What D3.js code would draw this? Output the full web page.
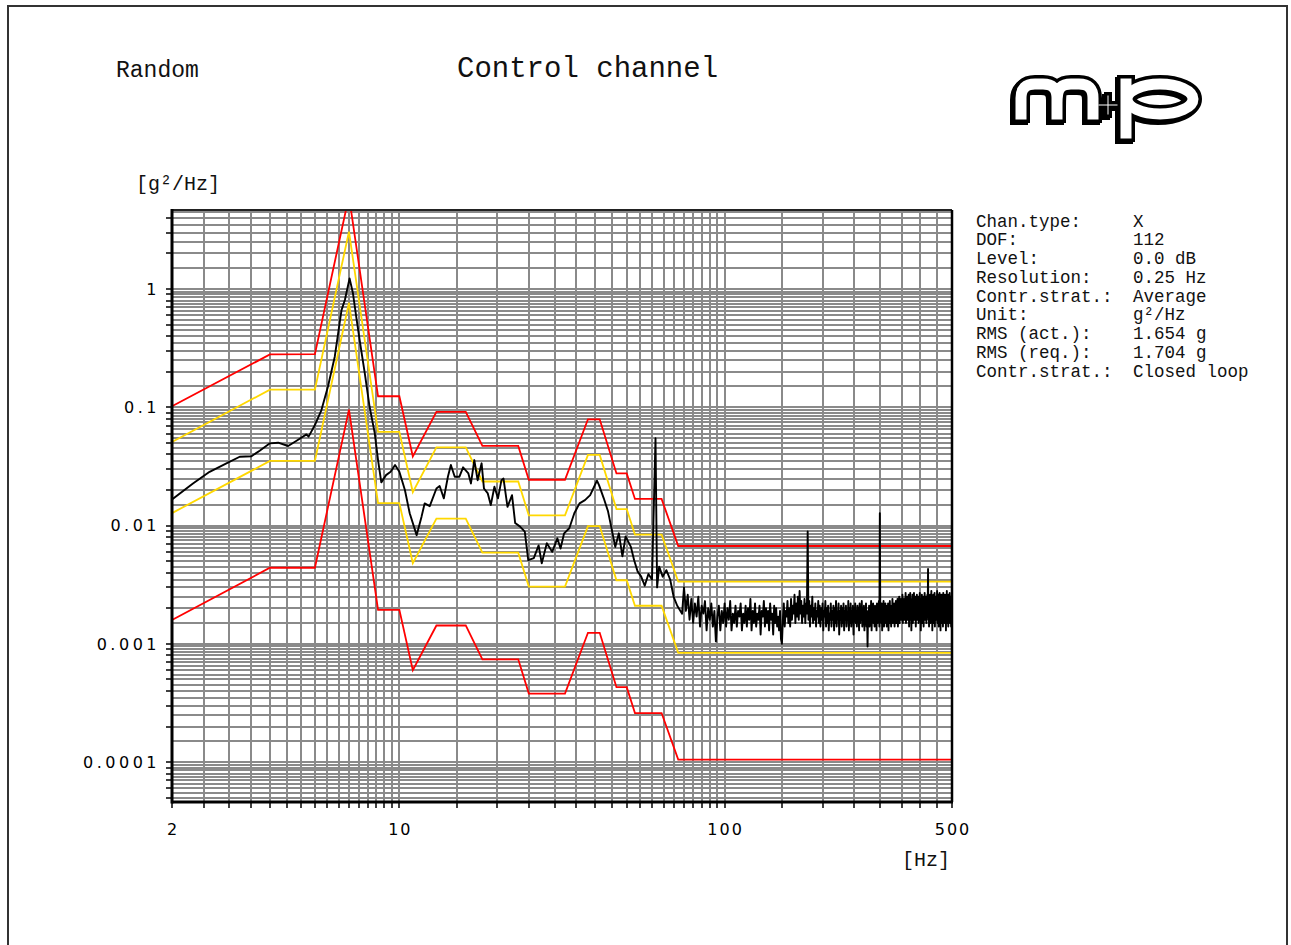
<!DOCTYPE html>
<html>
<head>
<meta charset="utf-8">
<script src="https://cdnjs.cloudflare.com/ajax/libs/d3/7.8.5/d3.min.js"></script>
<style>
  body { margin: 0; background: #fff; }
  .mono { font-family: "Liberation Mono", "Courier New", monospace; fill: #111; }
  .tick-label { font-family: "DejaVu Sans", sans-serif; font-size: 16px; fill: #000; }
  .ylab { letter-spacing: 3.5px; }
  .xlab { letter-spacing: 2px; }
</style>
</head>
<body>
<div id="canvas"></div>
<script>
const w = 1291;
const h = 945;
const plot = { left: 172, right: 952, top: 210, bottom: 802 };

// axis labels and grid subdivisions
const xTickLabels = [2, 10, 100, 500];
const yTickLabels = [1, 0.1, 0.01, 0.001, 0.0001];
const gridMantissa = [1, 1.5, 2, 2.5, 3, 3.5, 4, 4.5, 5, 5.5, 6, 6.5, 7, 7.5, 8, 8.5, 9, 9.5];
const tickMantissa = [1, 2, 3, 4, 5, 6, 7, 8, 9];

// tolerance lines, shared breakpoints [Hz]
const limitFreq = [2, 4, 5.5, 7, 8.6, 10, 11, 13, 16, 18, 23.2, 25, 32.3, 38, 41.3, 46.5, 50, 53, 64, 72, 500];
const abortHigh = [0.102, 0.28, 0.282, 6.12, 0.124, 0.124, 0.0384, 0.0916, 0.0916, 0.0472, 0.0472, 0.0244, 0.0244, 0.0792, 0.0792, 0.0276, 0.0276, 0.0168, 0.0168, 0.00672, 0.00672];
const alarmHigh = [0.051, 0.141, 0.141, 3.06, 0.062, 0.062, 0.0192, 0.0458, 0.0458, 0.0236, 0.0236, 0.0122, 0.0122, 0.0396, 0.0396, 0.0138, 0.0138, 0.0084, 0.0084, 0.00336, 0.00336];
const alarmLow = [0.01275, 0.0352, 0.0352, 0.765, 0.0155, 0.0155, 0.0048, 0.01145, 0.01145, 0.0059, 0.0059, 0.00305, 0.00305, 0.0099, 0.0099, 0.00345, 0.00345, 0.0021, 0.0021, 0.00084, 0.00084];
const abortLow = [0.00159, 0.0044, 0.0044, 0.0956, 0.00194, 0.00194, 0.0006, 0.00143, 0.00143, 0.00074, 0.00074, 0.00038, 0.00038, 0.00124, 0.00124, 0.00043, 0.00043, 0.00026, 0.00026, 0.000105, 0.000105];
const abortHighEnd = 0.0025; // red line drops at 500 Hz

// measured PSD up to 74 Hz
const measFreq = [2, 2.32, 2.61, 2.94, 3.23, 3.51, 3.72, 4, 4.24, 4.55, 4.83, 5.18, 5.26, 5.5, 5.76, 6.03, 6.33, 6.64, 6.8, 7.03,
  7.2, 7.37, 7.55, 7.83, 8.1, 8.4, 8.6, 8.8, 9.1, 9.4, 9.7, 10, 10.4, 10.76, 11.3, 11.7, 11.96, 12.4, 13, 13.3,
  13.7, 14.1, 14.4, 14.8, 15.3, 15.7, 16.3, 16.6, 17, 17.4, 17.9, 18.2, 18.7, 19.1, 19.6, 20.1, 20.6, 20.9, 21.5, 22.2,
  22.7, 23.5, 24.3, 24.9, 25.9, 26.8, 27.4, 28.4, 29.5, 30.6, 31.3, 32.1, 33.3, 34.5, 35.8, 37.2, 38.6, 40.5, 41.1, 42.5,
  43.8, 45, 46.1, 47.3, 48.5, 49.6, 51.5, 52.7, 54, 55.4, 56.8, 58.3, 59.8, 61.3, 62, 62.9, 64.5, 66.2, 68, 69.7,
  71.5, 74];
const measVal = [0.0166, 0.0227, 0.0285, 0.0336, 0.0382, 0.0386, 0.043, 0.0496, 0.0502, 0.0471, 0.0522, 0.059, 0.0565, 0.0708, 0.0948, 0.149, 0.268, 0.664, 0.807, 1.23,
  0.92, 0.583, 0.37, 0.194, 0.101, 0.0605, 0.0358, 0.0232, 0.0267, 0.0285, 0.0325, 0.0285, 0.02, 0.0127, 0.0083, 0.0119, 0.0154, 0.0146, 0.0206, 0.0216,
  0.017, 0.0259, 0.0325, 0.0259, 0.0259, 0.0311, 0.0276, 0.0227, 0.0358, 0.0242, 0.0336, 0.0206, 0.0187, 0.0149, 0.0213, 0.017, 0.0242, 0.025, 0.0144, 0.0181,
  0.0105, 0.0098, 0.0089, 0.0051, 0.0053, 0.0068, 0.0048, 0.0071, 0.006, 0.0078, 0.0064, 0.0086, 0.0095, 0.0127, 0.0154, 0.0164, 0.0181, 0.024, 0.022, 0.017,
  0.0132, 0.0092, 0.0066, 0.0086, 0.0055, 0.0081, 0.0066, 0.0051, 0.0041, 0.0037, 0.0031, 0.0039, 0.0035, 0.0548, 0.003, 0.0045, 0.0037, 0.0042, 0.0035, 0.0025,
  0.0021, 0.0018];

// measured PSD 75..500 Hz, one value per Hz, in 1e-4 g²/Hz
const noiseStart = 75;
const noiseStep = 1;
const noiseUnit = 1e-4;
const noiseVal = [
  30, 19, 26, 16, 24, 15, 22, 17, 25, 14, 21, 18, 23, 13, 20, 16, 22, 14, 19, 10.5,
  17, 21, 13, 19, 15, 22, 14, 20, 16, 23, 13, 18, 15, 21, 14, 19, 17, 22, 13, 18,
  15, 21, 14, 20, 16, 24, 13, 19, 15, 22, 14, 18, 16, 21, 12, 19, 17, 23, 14, 20,
  15, 19, 13, 22, 16, 18, 12, 21, 15, 20, 14, 17, 13, 19, 11, 10, 16, 22, 14, 19,
  17, 23, 15, 20, 14, 24, 16, 21, 18, 26, 15, 22, 17, 25, 16, 28, 18, 23, 15, 21,
  17, 24, 15, 22, 18, 89, 16, 23, 14, 21, 17, 25, 15, 20, 16, 22, 14, 19, 17, 23,
  15, 21, 14, 20, 16, 22, 13, 19, 17, 23, 14, 20, 15, 21, 13, 18, 16, 22, 14, 19,
  16, 21, 13, 20, 15, 23, 14, 18, 17, 22, 12, 19, 16, 21, 14, 20, 15, 22, 13, 19,
  17, 21, 14, 18, 16, 23, 13, 20, 15, 22, 14, 19, 16, 21, 12, 20, 17, 22, 15, 19,
  14, 21, 16, 20, 13, 22, 15, 19, 17, 23, 14, 18, 16, 21, 13, 20, 15, 22, 14, 19,
  9.5, 18, 15, 21, 14, 20, 16, 23, 13, 19, 17, 22, 15, 20, 14, 21, 16, 19, 13, 22,
  15, 20, 17, 23, 14, 127, 16, 21, 15, 22, 13, 20, 17, 23, 14, 19, 16, 22, 15, 21,
  14, 20, 17, 22, 13, 19, 16, 23, 15, 21, 14, 20, 17, 24, 15, 19, 16, 22, 14, 21,
  17, 23, 15, 20, 18, 24, 14, 21, 16, 25, 15, 22, 18, 24, 16, 21, 17, 26, 15, 23,
  18, 24, 16, 22, 19, 27, 15, 23, 17, 25, 16, 21, 19, 26, 14, 22, 18, 27, 16, 24,
  13, 23, 18, 26, 15, 22, 19, 27, 16, 24, 17, 25, 14, 22, 18, 26, 16, 23, 19, 25,
  15, 22, 18, 27, 16, 24, 13, 21, 17, 26, 15, 23, 18, 25, 14, 22, 17, 27, 16, 24,
  18, 25, 15, 23, 17, 26, 19, 43, 16, 24, 14, 22, 18, 26, 15, 23, 17, 28, 16, 24,
  13, 22, 18, 26, 15, 24, 17, 27, 14, 23, 18, 25, 16, 22, 19, 28, 15, 24, 17, 26,
  14, 23, 18, 27, 16, 24, 13, 22, 17, 26, 15, 25, 18, 23, 14, 27, 16, 24, 17, 22,
  15, 26, 18, 23, 13, 25, 17, 28, 15, 24, 18, 22, 14, 26, 16, 23, 19, 27, 15, 24,
  17, 25, 14, 23, 18, 24
];

const infoLabels = ["Chan.type:", "DOF:", "Level:", "Resolution:", "Contr.strat.:", "Unit:", "RMS (act.):", "RMS (req.):", "Contr.strat.:"];
const infoValues = ["X", "112", "0.0 dB", "0.25 Hz", "Average", "g\u00b2/Hz", "1.654 g", "1.704 g", "Closed loop"];

function decades(lo, hi, mantissa) {
  const out = [];
  for (let k = -5; k <= 2; k++) {
    mantissa.forEach(function(m) {
      const v = +(m * Math.pow(10, k)).toPrecision(6);
      if (v >= lo && v <= hi) out.push(v);
    });
  }
  return out;
}

function render() {
  const svg = d3.select("#canvas").append("svg")
    .attr("width", w).attr("height", h)
    .style("display", "block");

  svg.append("rect").attr("width", w).attr("height", h).attr("fill", "#fff");
  // page frame
  svg.append("rect")
    .attr("x", 8).attr("y", 6).attr("width", 1279).attr("height", 1000)
    .attr("fill", "none").attr("stroke", "#333").attr("stroke-width", 2);

  const x = d3.scaleLog().domain([2, 500]).range([plot.left, plot.right]);
  const y = d3.scaleLog().domain([4.6e-5, 4.66]).range([plot.bottom, plot.top]);

  // grid
  const grid = svg.append("g").attr("stroke", "#8a8a8a").attr("stroke-width", 2);
  grid.selectAll(".vgrid")
    .data(decades(2, 500, gridMantissa))
    .enter().append("line")
    .attr("x1", d => Math.round(x(d))).attr("x2", d => Math.round(x(d)))
    .attr("y1", plot.top).attr("y2", plot.bottom);
  grid.selectAll(".hgrid")
    .data(decades(4.6e-5, 4.66, gridMantissa))
    .enter().append("line")
    .attr("y1", d => Math.round(y(d))).attr("y2", d => Math.round(y(d)))
    .attr("x1", plot.left).attr("x2", plot.right);

  svg.append("clipPath").attr("id", "clip")
    .append("rect")
    .attr("x", plot.left).attr("y", plot.top)
    .attr("width", plot.right - plot.left + 1).attr("height", plot.bottom - plot.top);

  const line = d3.line().x(d => x(d[0])).y(d => y(d[1]));
  const curves = svg.append("g").attr("clip-path", "url(#clip)").attr("fill", "none");

  const zip = (fs, vs) => fs.map((f, i) => [f, vs[i]]);
  const series = [
    { pts: zip(limitFreq, abortHigh).concat([[500, abortHighEnd]]), color: "#ff0000" },
    { pts: zip(limitFreq, abortLow), color: "#ff0000" },
    { pts: zip(limitFreq, alarmHigh), color: "#ffd800" },
    { pts: zip(limitFreq, alarmLow), color: "#ffd800" }
  ];
  curves.selectAll(".limit")
    .data(series)
    .enter().append("path")
    .attr("d", d => line(d.pts))
    .attr("stroke", d => d.color)
    .attr("stroke-width", 1.8);

  const measured = zip(measFreq, measVal)
    .concat(noiseVal.map((v, i) => [noiseStart + i * noiseStep, v * noiseUnit]));
  curves.append("path")
    .attr("d", line(measured))
    .attr("stroke", "#000")
    .attr("stroke-width", 1.9)
    .attr("stroke-linejoin", "round");

  // ticks
  svg.append("g").attr("stroke", "#000").attr("stroke-width", 1.5)
    .selectAll("line")
    .data(decades(4.6e-5, 4.66, tickMantissa))
    .enter().append("line")
    .attr("x1", plot.left - 6).attr("x2", plot.left)
    .attr("y1", d => Math.round(y(d))).attr("y2", d => Math.round(y(d)));
  svg.append("g").attr("stroke", "#000").attr("stroke-width", 1.5)
    .selectAll("line")
    .data(decades(2, 500, gridMantissa))
    .enter().append("line")
    .attr("y1", plot.bottom).attr("y2", plot.bottom + 6)
    .attr("x1", d => Math.round(x(d))).attr("x2", d => Math.round(x(d)));

  // frame
  const frame = svg.append("g").attr("stroke", "#000");
  frame.append("line").attr("x1", plot.left).attr("x2", plot.right).attr("y1", plot.top).attr("y2", plot.top).attr("stroke-width", 2).attr("stroke", "#222");
  frame.append("line").attr("x1", plot.right).attr("x2", plot.right).attr("y1", plot.top).attr("y2", plot.bottom).attr("stroke-width", 2.5);
  frame.append("line").attr("x1", plot.left).attr("x2", plot.left).attr("y1", plot.top - 1).attr("y2", plot.bottom + 1.5).attr("stroke-width", 3);
  frame.append("line").attr("x1", plot.left).attr("x2", plot.right + 1).attr("y1", plot.bottom).attr("y2", plot.bottom).attr("stroke-width", 3);

  // tick labels
  svg.selectAll(".ylab")
    .data(yTickLabels)
    .enter().append("text")
    .attr("class", "tick-label ylab")
    .attr("x", 160).attr("y", d => y(d)).attr("dy", "0.36em")
    .attr("text-anchor", "end")
    .text(d => d);
  svg.selectAll(".xlab")
    .data(xTickLabels)
    .enter().append("text")
    .attr("class", "tick-label xlab")
    .attr("x", d => x(d) + 1).attr("y", 835)
    .attr("text-anchor", "middle")
    .text(d => d);

  // titles
  svg.append("text").attr("class", "mono").attr("x", 116).attr("y", 77).style("font-size", "23px").text("Random");
  svg.append("text").attr("class", "mono").attr("x", 457).attr("y", 77).style("font-size", "29px").text("Control channel");
  svg.append("text").attr("class", "mono").attr("x", 136).attr("y", 190).style("font-size", "20px").text("[g\u00b2/Hz]");
  svg.append("text").attr("class", "mono").attr("x", 902).attr("y", 866).style("font-size", "20px").text("[Hz]");

  // info panel
  const info = svg.append("g").attr("class", "mono").style("font-size", "17.5px");
  info.selectAll(".il").data(infoLabels).enter().append("text")
    .attr("x", 976).attr("y", (d, i) => 226.5 + i * 18.75).text(d => d);
  info.selectAll(".iv").data(infoValues).enter().append("text")
    .attr("x", 1133).attr("y", (d, i) => 226.5 + i * 18.75).text(d => d);

  logo(svg);
}

function logo(svg) {
  const g = svg.append("g").attr("transform", "translate(1012,75)")
    .attr("fill", "none").attr("stroke-linecap", "square").attr("stroke-linejoin", "round");
  const mPath = "M9,39 V23 Q9,9 23,9 H31 Q45,9 45,23 V39 M45,23 Q45,9 59,9 H67 Q81,9 81,23 V39";
  const plusPath = "M96,21 V39 M87,30 H105";
  const pStem = "M114,9 V58";
  const parts = [
    { d: mPath, w: 18 }, { d: plusPath, w: 8 }, { d: pStem, w: 18 }
  ];
  function layer(color, shrink, dx, dy) {
    const l = g.append("g").attr("stroke", color).attr("transform", "translate(" + dx + "," + dy + ")");
    parts.forEach(function(p) {
      l.append("path").attr("d", p.d).attr("stroke-width", p.w - shrink);
    });
    l.append("ellipse").attr("cx", 148).attr("cy", 24).attr("rx", 33).attr("ry", 15).attr("stroke-width", 18 - shrink);
  }
  layer("#000", 0, -2, 2);
  layer("#000", 0, 0, 0);
  layer("#fff", 7, 0, 0);
}

render();
</script>
</body>
</html>
